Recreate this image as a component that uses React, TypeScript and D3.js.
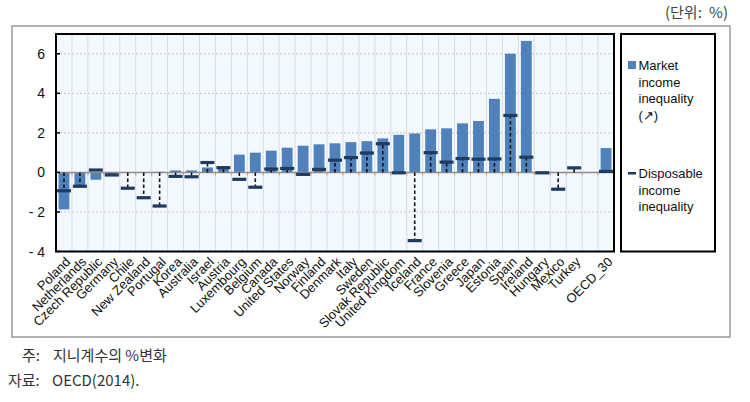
import React from "react";
import * as d3 from "d3";

const categories = [
  "Poland", "Netherlands", "Czech Republic", "Germany", "Chile", "New Zealand", "Portugal",
  "Korea", "Australia", "Israel", "Austria", "Luxembourg", "Belgium", "Canada", "United States",
  "Norway", "Finland", "Denmark", "Italy", "Sweden", "Slovak Republic", "United Kingdom",
  "Iceland", "France", "Slovenia", "Greece", "Japan", "Estonia", "Spain", "Ireland",
  "Hungary", "Mexico", "Turkey", "", "OECD_30",
];
const marketIncome = [
  -1.87, -0.75, -0.37, -0.15, 0, 0, 0.03, 0.1, 0.1, 0.25, 0.2, 0.9, 1.0, 1.1, 1.25,
  1.35, 1.42, 1.47, 1.53, 1.58, 1.72, 1.9, 1.97, 2.18, 2.23, 2.48, 2.6, 3.72, 6.0, 6.65,
  -0.02, 0, 0, null, 1.23,
];
const disposableIncome = [
  -0.93, -0.7, 0.12, -0.13, -0.8, -1.28, -1.7, -0.2, -0.22, 0.5, 0.24, -0.35, -0.75, 0.17, 0.2,
  -0.1, 0.15, 0.62, 0.75, 0.98, 1.45, -0.02, -3.45, 1.0, 0.52, 0.7, 0.67, 0.68, 2.88, 0.77,
  -0.02, -0.85, 0.23, null, 0.05,
];
const yTicks = [-4, -2, 0, 2, 4, 6];

const W = 750;
const H = 402;
const plot = { left: 56, right: 614, top: 34, bottom: 251.5 };
const BAR = "#4f81bd";
const MARK = "#1f3b5f";

export default function App() {
  const keys = categories.map((c, i) => (c === "" ? `__blank${i}` : c));
  const x = d3.scaleBand<string>().domain(keys).range([plot.left, plot.right]).paddingInner(0).paddingOuter(0);
  const y = d3.scaleLinear().domain([-4, 7]).range([plot.bottom, plot.top]);
  const bw = x.bandwidth();
  const barW = bw * 0.68;
  const markW = bw * 0.88;
  const latin = "'Liberation Sans', Arial, sans-serif";
  const kr = "'Noto Sans CJK KR', sans-serif";

  return (
    <svg width={W} height={H} style={{ position: "absolute", left: 0, top: 0, background: "#fff" }}>
      <text x={665} y={18} fontFamily={kr} fontSize={15} fill="#444">(단위:</text>
      <text x={728} y={18} textAnchor="end" fontFamily={kr} fontSize={15} fill="#444">%)</text>
      <rect x={12} y={26} width={718} height={311} fill="#fff" stroke="#9a9a9a" strokeWidth={1.5} />
      <rect x={plot.left} y={plot.top} width={plot.right - plot.left} height={plot.bottom - plot.top} fill="#f3f9fe" />
      {/* vertical grid */}
      {keys.map((k, i) => (
        i > 0 ? <line key={"vg" + i} x1={x(k)!} x2={x(k)!} y1={plot.top} y2={plot.bottom} stroke="#d6dde3" strokeWidth={1} /> : null
      ))}
      {/* horizontal grid */}
      {yTicks.filter((t) => t !== 0 && t !== -4).map((t) => (
        <line key={"hg" + t} x1={plot.left} x2={plot.right} y1={y(t)} y2={y(t)} stroke="#c8c8c8" strokeDasharray="2,2" strokeWidth={1} />
      ))}
      {/* bars */}
      {keys.map((k, i) => {
        const v = marketIncome[i];
        if (v === null || v === 0) return null;
        const cx = x(k)! + bw / 2;
        return <rect key={"b" + i} x={cx - barW / 2} y={Math.min(y(v), y(0))} width={barW} height={Math.abs(y(v) - y(0))} fill={BAR} />;
      })}
      {/* zero line */}
      <line x1={plot.left} x2={plot.right} y1={y(0)} y2={y(0)} stroke="#8c8c8c" strokeWidth={1.5} />
      {keys.map((k, i) => (
        i > 0 ? <line key={"zt" + i} x1={x(k)!} x2={x(k)!} y1={y(0)} y2={y(0) + 3} stroke="#c79a6a" strokeWidth={1} /> : null
      ))}
      {/* disposable markers */}
      {keys.map((k, i) => {
        const v = disposableIncome[i];
        if (v === null) return null;
        const cx = x(k)! + bw / 2;
        return (
          <g key={"d" + i}>
            {Math.abs(y(v) - y(0)) > 3 && (
              <line x1={cx} x2={cx} y1={y(0)} y2={y(v)} stroke="#111" strokeWidth={1.6} strokeDasharray="3.5,2.5" />
            )}
            <rect x={cx - markW / 2} y={y(v) - 1.6} width={markW} height={3.2} fill={MARK} />
          </g>
        );
      })}
      {/* plot border */}
      <rect x={plot.left} y={plot.top} width={plot.right - plot.left} height={plot.bottom - plot.top} fill="none" stroke="#000" strokeWidth={2} />
      {/* y ticks */}
      {yTicks.map((t) => (
        <g key={"yt" + t}>
          <line x1={plot.left} x2={plot.left + 4} y1={y(t)} y2={y(t)} stroke="#000" strokeWidth={1.5} />
          <text x={45} y={y(t) + 5} textAnchor="end" fontFamily={latin} fontSize={14} fill="#111">
            {t < 0 ? `- ${Math.abs(t)}` : `${t}`}
          </text>
        </g>
      ))}
      {/* x labels */}
      {keys.map((k, i) => {
        const label = categories[i];
        if (!label) return null;
        const cx = x(k)! + bw / 2 + 4;
        return (
          <text key={"xl" + i} transform={`translate(${cx},${plot.bottom + 8}) rotate(-45)`} textAnchor="end"
            fontFamily={latin} fontSize={13} fill="#111" dy="0.35em">{label}</text>
        );
      })}
      {/* legend */}
      <rect x={621} y={34} width={94} height={217.5} fill="#fff" stroke="#000" strokeWidth={2} />
      <rect x={628} y={61} width={8} height={8} fill={BAR} />
      {["Market", "income", "inequality", "(↗)"].map((s, i) => (
        <text key={"lm" + i} x={638.5} y={70 + i * 16.5} fontFamily={latin} fontSize={13} fill="#111">{s}</text>
      ))}
      <rect x={628} y={172} width={8} height={2.5} fill={MARK} />
      {["Disposable", "income", "inequality"].map((s, i) => (
        <text key={"ld" + i} x={638.5} y={178 + i * 16.5} fontFamily={latin} fontSize={13} fill="#111">{s}</text>
      ))}
      {/* footer */}
      <text x={22} y={361} fontFamily={kr} fontSize={15} fill="#333">주:</text>
      <text x={53} y={361} fontFamily={kr} fontSize={15} fill="#333">지니계수의 %변화</text>
      <text x={8} y={386} fontFamily={kr} fontSize={15} fill="#333">자료:</text>
      <text x={52} y={386} fontFamily={kr} fontSize={15} fill="#333">OECD(2014).</text>
    </svg>
  );
}
